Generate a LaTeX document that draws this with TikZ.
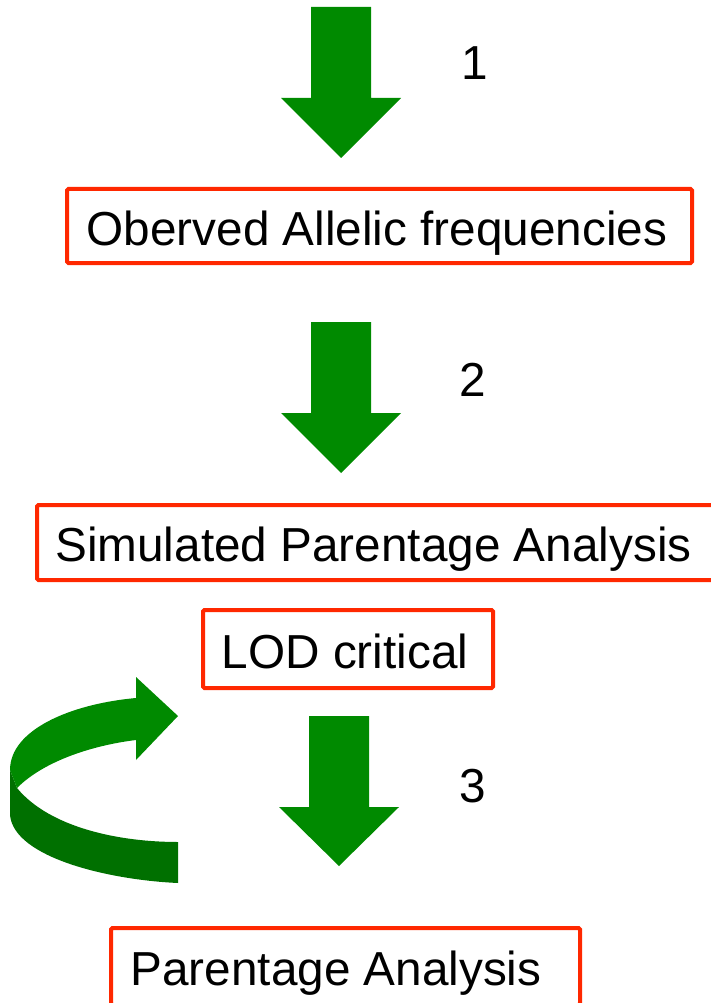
\documentclass[tikz,border=0pt]{standalone}
\usepackage{fontspec}
\setmainfont{Liberation Sans}
\definecolor{arrowgreen}{RGB}{0,138,0}
\definecolor{darkgreen}{RGB}{0,112,0}
\definecolor{boxred}{RGB}{255,40,0}
\begin{document}
\begin{tikzpicture}[x=1pt,y=-1pt,
  labelbox/.style={draw=boxred, line width=4pt, rounded corners=1.5pt,
    fill=white, inner sep=0pt, text height=38pt, text depth=0pt,
    font=\fontsize{47.7}{57}\selectfont},
  steplabel/.style={inner sep=0pt, font=\fontsize{47.7}{57}\selectfont},
  downarrow/.style={fill=arrowgreen, draw=none}]
\useasboundingbox (0,0) rectangle (711,1003);
\clip (0,0) rectangle (711,1003);
% down arrows
\fill[downarrow] (311,7) -- (371,7) -- (371,98) -- (401,98) -- (341,158) -- (281,98) -- (311,98) -- cycle;
\fill[downarrow] (311,322) -- (371,322) -- (371,413) -- (401,413) -- (341,473) -- (281,413) -- (311,413) -- cycle;
\fill[downarrow] (309,716) -- (369,716) -- (369,807) -- (399,807) -- (339,866) -- (279,807) -- (309,807) -- cycle;
% step labels
\node[steplabel] (n1) at (475,63) {1};
\node[steplabel] (n2) at (473,380) {2};
\node[steplabel] (n3) at (473,786) {3};
% boxes
\node[labelbox, minimum width=625pt, minimum height=74pt] (freq) at (379.5,226) {Oberved Allelic frequencies\kern5pt};
\node[labelbox, minimum width=679pt, minimum height=75pt] (sim) at (376.5,542.5) {Simulated Parentage Analysis\kern6pt};
\node[labelbox, minimum width=290pt, minimum height=78pt] (lod) at (348,649) {LOD critical\kern6pt};
\node[labelbox, minimum width=469pt, minimum height=77pt] (par) at (345.5,966.5) {Parentage Analysis\kern19pt};
% curved loop arrow
\fill[darkgreen] (178,883) .. controls (110,880) and (14,858) .. (10,815)
  -- (10,770) -- (17,788) .. controls (50,828) and (120,842) .. (178,842) -- cycle;
\fill[arrowgreen] (136,698) .. controls (70,704) and (10,730) .. (10,770)
  -- (17,788) .. controls (45,760) and (95,745) .. (136,740)
  -- (136,760) -- (178,716) -- (136,677) -- cycle;
\end{tikzpicture}
\end{document}
